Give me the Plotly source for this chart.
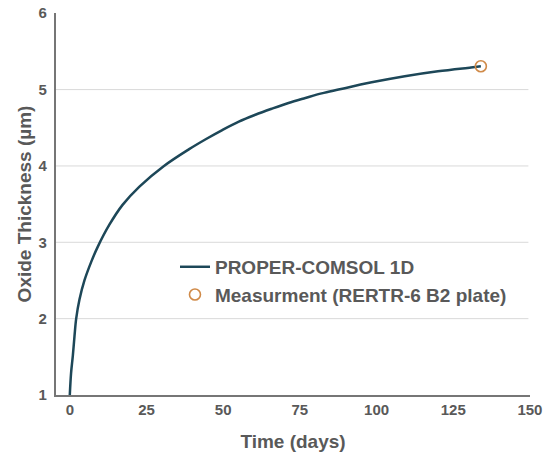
import plotly.graph_objects as go

# Model curve
days = [0, 0.4, 1.0, 1.53, 2.08, 3.15, 4.77, 6.95, 9.1, 12.9, 17.2, 22.7, 30.7,
        38.9, 44.3, 49.7, 55.1, 60.5, 65.9, 71.3, 76.8, 82.1, 87.6, 98.4,
        109.2, 120.0, 130.8, 134.0]
thickness = [1.0, 1.28, 1.52, 1.77, 2.0, 2.25, 2.50, 2.74, 2.94, 3.23, 3.49, 3.73, 4.0,
             4.22, 4.35, 4.47, 4.58, 4.67, 4.75, 4.825, 4.89, 4.95, 5.0, 5.095,
             5.175, 5.24, 5.29, 5.305]

# Measurement
meas_days = [134.0]
meas_thickness = [5.305]

x_ticks = [0, 25, 50, 75, 100, 125, 150]
y_ticks = [1, 2, 3, 4, 5, 6]

FONT = "Liberation Sans, Arial, sans-serif"
GRAY = "#595959"

fig = go.Figure()
fig.add_trace(go.Scatter(
    x=days, y=thickness, mode="lines", name="<b>PROPER-COMSOL 1D</b>",
    line=dict(color="#1d4758", width=2.5, shape="spline", smoothing=1.0),
))
fig.add_trace(go.Scatter(
    x=meas_days, y=meas_thickness, mode="markers", name="<b>Measurment (RERTR-6 B2 plate)</b>",
    marker=dict(symbol="circle-open", size=11, color="#d08a48", line=dict(width=1.6)),
))

fig.update_layout(
    width=549, height=455,
    margin=dict(l=56, r=19, t=13, b=60, autoexpand=False),
    paper_bgcolor="white", plot_bgcolor="white",
    font=dict(family=FONT, color=GRAY, size=15),
    showlegend=True,
    legend=dict(x=0.251, y=0.385, xanchor="left", yanchor="top",
                bgcolor="rgba(0,0,0,0)", font=dict(size=19, color=GRAY, family=FONT),
                tracegroupgap=0, itemwidth=30),
    xaxis=dict(
        range=[-4.5, 150.02], tickvals=x_ticks, ticktext=[f"<b>{v}</b>" for v in x_ticks],
        showgrid=False, zeroline=False, showline=True, linecolor="#767676", linewidth=2.2,
        ticks="", automargin=False,
        title=dict(text="<b>Time (days)</b>", font=dict(size=19, color=GRAY), standoff=18),
        tickfont=dict(size=15, color=GRAY),
    ),
    yaxis=dict(
        range=[1, 6.003], tickvals=y_ticks, ticktext=[f"<b>{v}</b>" for v in y_ticks],
        showgrid=False, zeroline=False, showline=True, linecolor="#767676", linewidth=2.2,
        ticks="", ticklabelstandoff=4, automargin=False, ticklabeloverflow="allow",
        title=dict(text="<b>Oxide Thickness (µm)</b>", font=dict(size=19, color=GRAY), standoff=2),
        tickfont=dict(size=15, color=GRAY),
    ),
)

# gridlines at 2..5 ending slightly before the right edge
for v in [2, 3, 4, 5]:
    fig.add_shape(type="line", xref="x", yref="y", x0=-4.5, x1=149.5, y0=v, y1=v,
                  line=dict(color="#d9d9d9", width=1), layer="below")

fig.write_html("out.html", config={"displayModeBar": False},
               post_script="document.body.style.margin='0px';")
